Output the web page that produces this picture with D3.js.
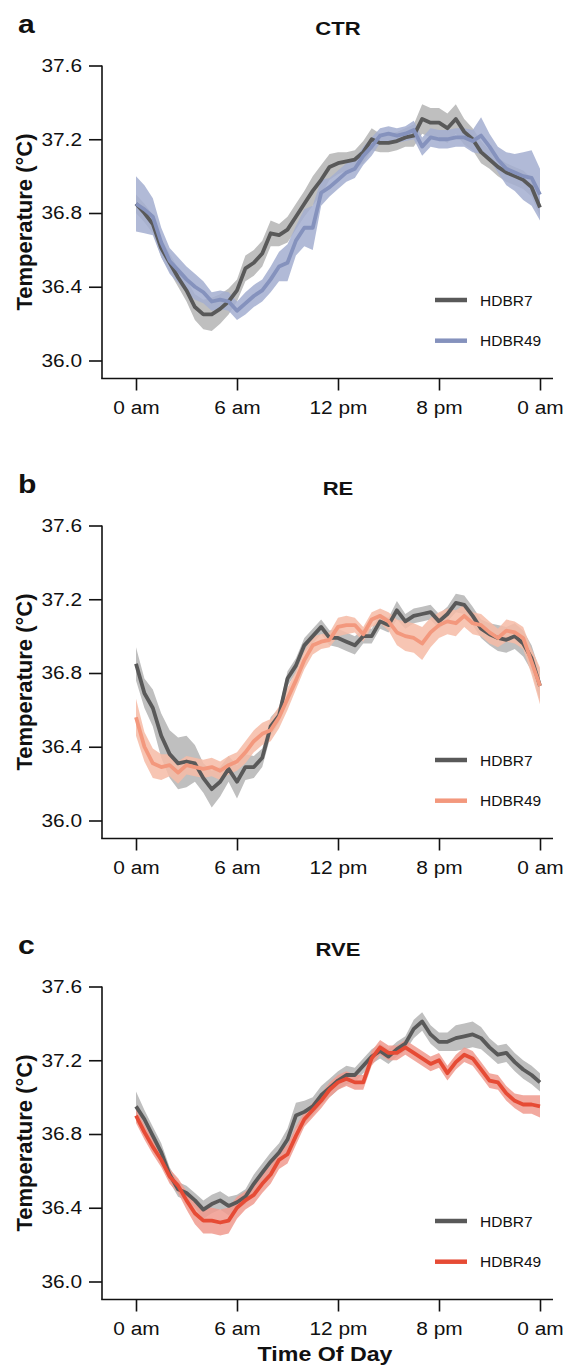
<!DOCTYPE html>
<meta charset="utf-8">
<style>
    body { margin: 0; background: #fff; }
    text { font-family: "Liberation Sans", Arial, Helvetica, sans-serif; fill: #111; }
    .axis path, .axis line { stroke: #111; stroke-width: 1.6px; }
</style>
<svg width="563" height="1368"></svg>
<script src="https://d3js.org/d3.v7.min.js"></script>
<script>

    // sample times (hours after midnight)
    var hours = [0, 0.5, 1, 1.5, 2, 2.5, 3, 3.5, 4, 4.5,
        5, 5.5, 6, 6.5, 7, 7.5, 8, 8.5, 9, 9.5,
        10, 10.5, 11, 11.5, 12, 12.5, 13, 13.5, 14, 14.5,
        15, 15.5, 16, 16.5, 17, 17.5, 18, 18.5, 19, 19.5,
        20, 20.5, 21, 21.5, 22, 22.5, 23, 23.5, 24];

    var xTicks = [0, 6, 12, 18, 24];
    var xTickLabels = ["0 am", "6 am", "12 pm", "8 pm", "0 am"];
    var yTicks = [36.0, 36.4, 36.8, 37.2, 37.6];
    var seriesNames = ["HDBR7", "HDBR49"];

    // CTR
    var ctrHdbr7 = [36.85, 36.80, 36.74, 36.61, 36.53, 36.45, 36.38, 36.29, 36.25, 36.25,
        36.28, 36.32, 36.38, 36.50, 36.53, 36.58, 36.69, 36.68, 36.71, 36.78,
        36.85, 36.92, 36.98, 37.05, 37.07, 37.08, 37.09, 37.13, 37.20, 37.18,
        37.18, 37.19, 37.21, 37.22, 37.31, 37.29, 37.29, 37.26, 37.31, 37.24,
        37.20, 37.13, 37.09, 37.05, 37.02, 37.00, 36.98, 36.94, 36.83];
    var ctrHdbr7Se = [0.05, 0.05, 0.05, 0.05, 0.05, 0.05, 0.06, 0.07, 0.08, 0.09,
        0.08, 0.07, 0.06, 0.07, 0.07, 0.07, 0.07, 0.06, 0.07, 0.07,
        0.07, 0.08, 0.08, 0.07, 0.06, 0.05, 0.05, 0.06, 0.06, 0.05,
        0.05, 0.05, 0.05, 0.06, 0.08, 0.08, 0.08, 0.08, 0.08, 0.07,
        0.06, 0.06, 0.05, 0.05, 0.05, 0.05, 0.05, 0.05, 0.05];
    var ctrHdbr49 = [36.85, 36.82, 36.78, 36.64, 36.54, 36.49, 36.44, 36.40, 36.37, 36.32,
        36.33, 36.32, 36.27, 36.31, 36.35, 36.38, 36.44, 36.51, 36.53, 36.65,
        36.72, 36.72, 36.91, 36.94, 36.98, 37.02, 37.04, 37.11, 37.16, 37.22,
        37.23, 37.22, 37.23, 37.25, 37.16, 37.21, 37.20, 37.20, 37.21, 37.21,
        37.19, 37.22, 37.16, 37.09, 37.04, 37.02, 37.00, 36.99, 36.90];
    var ctrHdbr49Se = [0.15, 0.13, 0.10, 0.08, 0.07, 0.07, 0.07, 0.07, 0.06, 0.05,
        0.05, 0.05, 0.05, 0.06, 0.06, 0.06, 0.07, 0.08, 0.10, 0.08,
        0.10, 0.12, 0.07, 0.05, 0.05, 0.05, 0.05, 0.05, 0.05, 0.04,
        0.04, 0.04, 0.04, 0.05, 0.05, 0.05, 0.05, 0.05, 0.05, 0.05,
        0.06, 0.10, 0.07, 0.07, 0.09, 0.10, 0.13, 0.15, 0.14];

    // RE
    var reHdbr7 = [36.85, 36.69, 36.61, 36.46, 36.36, 36.31, 36.32, 36.31, 36.23, 36.17,
        36.21, 36.28, 36.21, 36.29, 36.29, 36.34, 36.51, 36.57, 36.77, 36.84,
        36.95, 37.00, 37.05, 36.99, 36.99, 36.97, 36.95, 37.00, 37.00, 37.08,
        37.06, 37.14, 37.08, 37.11, 37.12, 37.13, 37.08, 37.12, 37.18, 37.17,
        37.11, 37.04, 37.01, 36.99, 36.98, 37.00, 36.96, 36.88, 36.73];
    var reHdbr7Se = [0.09, 0.08, 0.10, 0.12, 0.13, 0.14, 0.14, 0.10, 0.08, 0.10,
        0.08, 0.07, 0.09, 0.07, 0.06, 0.05, 0.05, 0.04, 0.04, 0.04,
        0.04, 0.04, 0.04, 0.04, 0.05, 0.05, 0.05, 0.04, 0.04, 0.04,
        0.04, 0.05, 0.04, 0.04, 0.04, 0.04, 0.04, 0.04, 0.05, 0.05,
        0.05, 0.05, 0.06, 0.07, 0.07, 0.07, 0.07, 0.07, 0.08];
    var reHdbr49 = [36.56, 36.40, 36.31, 36.29, 36.30, 36.26, 36.30, 36.29, 36.28, 36.29,
        36.27, 36.30, 36.32, 36.37, 36.43, 36.47, 36.49, 36.56, 36.66, 36.76,
        36.87, 36.95, 36.97, 36.98, 37.05, 37.06, 37.06, 37.01, 37.09, 37.11,
        37.08, 37.02, 37.00, 36.99, 36.96, 37.02, 37.06, 37.08, 37.07, 37.11,
        37.07, 37.06, 37.02, 36.99, 37.03, 37.02, 36.99, 36.86, 36.73];
    var reHdbr49Se = [0.10, 0.08, 0.08, 0.07, 0.06, 0.06, 0.05, 0.05, 0.05, 0.05,
        0.05, 0.05, 0.05, 0.06, 0.06, 0.06, 0.06, 0.06, 0.06, 0.05,
        0.05, 0.05, 0.04, 0.04, 0.05, 0.05, 0.04, 0.04, 0.04, 0.04,
        0.05, 0.07, 0.08, 0.08, 0.09, 0.08, 0.07, 0.07, 0.07, 0.06,
        0.06, 0.06, 0.06, 0.05, 0.06, 0.06, 0.06, 0.07, 0.10];

    // RVE
    var rveHdbr7 = [36.95, 36.88, 36.79, 36.70, 36.58, 36.50, 36.48, 36.44, 36.39, 36.42,
        36.44, 36.41, 36.43, 36.46, 36.53, 36.59, 36.65, 36.70, 36.77, 36.90,
        36.92, 36.95, 37.01, 37.05, 37.09, 37.12, 37.12, 37.17, 37.22, 37.25,
        37.22, 37.26, 37.29, 37.37, 37.41, 37.34, 37.30, 37.30, 37.32, 37.33,
        37.34, 37.32, 37.27, 37.23, 37.24, 37.19, 37.15, 37.12, 37.08];
    var rveHdbr7Se = [0.08, 0.05, 0.05, 0.05, 0.04, 0.04, 0.04, 0.04, 0.05, 0.05,
        0.05, 0.05, 0.04, 0.04, 0.05, 0.05, 0.05, 0.05, 0.06, 0.07,
        0.06, 0.05, 0.05, 0.05, 0.05, 0.05, 0.04, 0.04, 0.04, 0.04,
        0.04, 0.04, 0.04, 0.05, 0.05, 0.05, 0.05, 0.05, 0.07, 0.07,
        0.07, 0.06, 0.05, 0.05, 0.05, 0.05, 0.05, 0.05, 0.05];
    var rveHdbr49 = [36.90, 36.81, 36.73, 36.66, 36.57, 36.52, 36.44, 36.37, 36.33, 36.33,
        36.32, 36.33, 36.40, 36.44, 36.47, 36.53, 36.58, 36.66, 36.69, 36.79,
        36.88, 36.93, 36.98, 37.04, 37.08, 37.10, 37.08, 37.08, 37.21, 37.27,
        37.24, 37.24, 37.27, 37.24, 37.21, 37.18, 37.20, 37.13, 37.19, 37.23,
        37.21, 37.15, 37.09, 37.08, 37.02, 36.98, 36.96, 36.96, 36.95];
    var rveHdbr49Se = [0.04, 0.04, 0.04, 0.04, 0.04, 0.04, 0.05, 0.06, 0.07, 0.07,
        0.07, 0.07, 0.06, 0.05, 0.05, 0.05, 0.05, 0.05, 0.05, 0.05,
        0.04, 0.04, 0.04, 0.04, 0.04, 0.04, 0.04, 0.04, 0.04, 0.04,
        0.04, 0.04, 0.04, 0.04, 0.04, 0.04, 0.04, 0.04, 0.04, 0.04,
        0.04, 0.04, 0.04, 0.04, 0.04, 0.04, 0.05, 0.05, 0.06];

    var panels = [
        {letter: "a", title: "CTR", top: 0, ref: ctrHdbr7, refSe: ctrHdbr7Se, hd: ctrHdbr49, hdSe: ctrHdbr49Se,
            line: "#8592bd", band: "#a3aed0"},
        {letter: "b", title: "RE", top: 460, ref: reHdbr7, refSe: reHdbr7Se, hd: reHdbr49, hdSe: reHdbr49Se,
            line: "#f3987d", band: "#f6bba6"},
        {letter: "c", title: "RVE", top: 921, ref: rveHdbr7, refSe: rveHdbr7Se, hd: rveHdbr49, hdSe: rveHdbr49Se,
            line: "#e64b35", band: "#f09a8e"}
    ];

    var greyLine = "#595959", greyBand = "#bfbfbf";
    var sx = 1.16; // the figure's text is a little wider than plain Helvetica

    var svg = d3.select("svg");

    var x = d3.scaleLinear().domain([0, 24]).range([136, 540]);
    var y = d3.scaleLinear().domain([36.0, 37.6]).range([360.5, 65.5]);

    function stretch(sel) {
        sel.each(function () {
            var t = d3.select(this);
            var tx = +t.attr("x") || 0;
            t.attr("x", tx / sx).attr("transform", "scale(" + sx + ",1)");
        });
    }

    function bandArea(mean, se) {
        return d3.area()
            .x(function (d, i) { return x(hours[i]); })
            .y0(function (d, i) { return y(mean[i] - se[i]); })
            .y1(function (d, i) { return y(mean[i] + se[i]); })(mean);
    }

    var meanLine = d3.line()
        .x(function (d, i) { return x(hours[i]); })
        .y(function (d) { return y(d); });

    panels.forEach(function (p) {
        var g = svg.append("g").attr("transform", "translate(0," + p.top + ")");

        // bands and lines
        g.append("path").attr("d", bandArea(p.ref, p.refSe)).attr("fill", greyBand);
        g.append("path").attr("d", bandArea(p.hd, p.hdSe)).attr("fill", p.band).attr("fill-opacity", 0.85);
        g.append("path").attr("d", meanLine(p.ref)).attr("fill", "none")
            .attr("stroke", greyLine).attr("stroke-width", 3.8).attr("stroke-linejoin", "round");
        g.append("path").attr("d", meanLine(p.hd)).attr("fill", "none")
            .attr("stroke", p.line).attr("stroke-width", 3.8).attr("stroke-linejoin", "round");

        // y axis
        var ya = g.append("g").attr("class", "axis").attr("transform", "translate(102,0)")
            .call(d3.axisLeft(y).tickValues(yTicks).tickSize(13).tickPadding(7).tickFormat(d3.format(".1f")));
        ya.select(".domain").remove();
        ya.selectAll("text").style("font-size", "18px").attr("fill", "#111");
        stretch(ya.selectAll("text"));
        g.append("line").attr("x1", 102).attr("x2", 102).attr("y1", 65.5).attr("y2", 378.5)
            .attr("stroke", "#111").attr("stroke-width", 1.6);

        // x axis
        var xa = g.append("g").attr("class", "axis").attr("transform", "translate(0,378.5)")
            .call(d3.axisBottom(x).tickValues(xTicks).tickSize(12).tickPadding(11)
                .tickFormat(function (d, i) { return xTickLabels[i]; }));
        xa.select(".domain").remove();
        xa.selectAll("text").style("font-size", "18px").attr("fill", "#111");
        stretch(xa.selectAll("text"));
        g.append("line").attr("x1", 101.2).attr("x2", 553).attr("y1", 378.5).attr("y2", 378.5)
            .attr("stroke", "#111").attr("stroke-width", 1.6);

        // y axis title
        g.append("text")
            .attr("transform", "translate(32,222) rotate(-90)")
            .attr("text-anchor", "middle")
            .style("font-size", "22px").style("font-weight", "bold")
            .text("Temperature (°C)");

        // panel title and letter
        g.append("g").attr("transform", "translate(338,35)")
            .append("text").attr("text-anchor", "middle")
            .attr("transform", "scale(" + sx + ",1)")
            .style("font-size", "19px").style("font-weight", "bold")
            .text(p.title);
        g.append("g").attr("transform", "translate(18,33)")
            .append("text")
            .attr("transform", "scale(" + sx + ",1)")
            .style("font-size", "26px").style("font-weight", "bold")
            .text(p.letter);

        // legend
        var lg = g.append("g").attr("transform", "translate(435,300)");
        var colours = [greyLine, p.line];
        seriesNames.forEach(function (name, i) {
            lg.append("line").attr("x1", 0).attr("x2", 32).attr("y1", i * 40.7).attr("y2", i * 40.7)
                .attr("stroke", colours[i]).attr("stroke-width", 4.5);
            lg.append("text").attr("x", 45).attr("y", i * 40.7).attr("dy", "0.36em")
                .style("font-size", "15.5px").text(name);
        });
    });

    // shared x title
    svg.append("g").attr("transform", "translate(325,1361)")
        .append("text").attr("text-anchor", "middle")
        .attr("transform", "scale(" + sx + ",1)")
        .style("font-size", "20px").style("font-weight", "bold")
        .text("Time Of Day");

</script>
